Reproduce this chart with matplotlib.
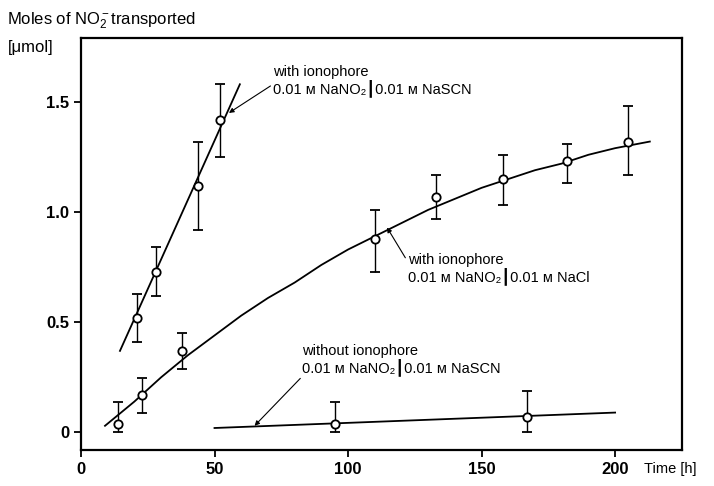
import matplotlib
matplotlib.use("Agg")
import matplotlib.pyplot as plt
import numpy as np

plt.rcParams['font.family'] = ['Liberation Sans', 'DejaVu Sans']
plt.rcParams['mathtext.fontset'] = 'custom'
plt.rcParams['mathtext.rm'] = 'Liberation Sans'
plt.rcParams['mathtext.it'] = 'Liberation Sans'

# measured points (time in h, moles in umol), with error bar limits
t_scn = [21, 28, 44, 52]
m_scn = [0.52, 0.73, 1.12, 1.42]
lo_scn = [0.41, 0.62, 0.92, 1.25]
hi_scn = [0.63, 0.84, 1.32, 1.58]

t_cl = [14, 23, 38, 110, 133, 158, 182, 205]
m_cl = [0.04, 0.17, 0.37, 0.88, 1.07, 1.15, 1.23, 1.32]
lo_cl = [0.0, 0.09, 0.29, 0.73, 0.97, 1.03, 1.13, 1.17]
hi_cl = [0.14, 0.245, 0.45, 1.01, 1.17, 1.26, 1.31, 1.48]

t_none = [95, 167]
m_none = [0.04, 0.07]
lo_none = [0.0, 0.0]
hi_none = [0.14, 0.19]

# fitted curves
fit_scn_t = [14.6, 59.5]
fit_scn_m = [0.37, 1.58]
fit_cl_t = [9, 20, 30, 40, 50, 60, 70, 80, 90, 100, 110, 120, 130, 140,
            150, 160, 170, 180, 190, 200, 213]
fit_cl_m = [0.03, 0.14, 0.25, 0.35, 0.44, 0.53, 0.61, 0.68, 0.76, 0.83,
            0.89, 0.95, 1.01, 1.06, 1.11, 1.15, 1.19, 1.22, 1.26, 1.29, 1.32]
fit_none_t = [50, 200]
fit_none_m = [0.02, 0.09]

xticks = [0, 50, 100, 150, 200]
yticks = [0, 0.5, 1.0, 1.5]
ytick_labels = ['0', '0.5', '1.0', '1.5']

fig = plt.figure(figsize=(7.14, 4.86), dpi=100)
ax = fig.add_axes([0.1134, 0.074, 0.8416, 0.8478])

lw = 1.3
for f_t, f_m in [(fit_scn_t, fit_scn_m), (fit_cl_t, fit_cl_m),
                 (fit_none_t, fit_none_m)]:
    ax.plot(f_t, f_m, color='black', lw=lw, zorder=2)

for t, m, lo, hi in [(t_scn, m_scn, lo_scn, hi_scn),
                     (t_cl, m_cl, lo_cl, hi_cl),
                     (t_none, m_none, lo_none, hi_none)]:
    m = np.array(m)
    yerr = [m - np.array(lo), np.array(hi) - m]
    ax.errorbar(t, m, yerr=yerr, fmt='o', mfc='white', mec='black', mew=1.3,
                ms=6, ecolor='black', elinewidth=1.0, capsize=3.5, capthick=1.2,
                zorder=3)

ax.set_xlim(0, 225)
ax.set_ylim(-0.08, 1.79)
ax.set_xticks(xticks)
ax.set_yticks(yticks)
ax.set_yticklabels(ytick_labels)
ax.tick_params(direction='out', length=5, width=1.3, labelsize=12)
for lab in ax.get_xticklabels() + ax.get_yticklabels():
    lab.set_fontweight('bold')
for s in ax.spines.values():
    s.set_linewidth(1.6)

ax.annotate('Time [h]', xy=(211, -0.08), xytext=(0, -8.5),
            textcoords='offset points', fontsize=10.5, ha='left', va='top')
fig.text(0.010, 0.958, r'Moles of NO$_2^-$transported', fontsize=12,
         ha='left', va='center')
fig.text(0.011, 0.903, '[μmol]', fontsize=12, ha='left', va='center')

arrow = dict(arrowstyle='-|>', lw=0.8, color='black', mutation_scale=7,
             shrinkA=0, shrinkB=0)
fs = 10.5
ls = 1.0
ax.annotate('with ionophore\n0.01 ᴍ NaNO₂┃0.01 ᴍ NaSCN', xy=(55.4, 1.45),
            xytext=(72, 1.595), fontsize=fs, ha='left', va='center',
            linespacing=ls, arrowprops=dict(arrow, relpos=(0, 0.4)))
ax.annotate('with ionophore\n0.01 ᴍ NaNO₂┃0.01 ᴍ NaCl', xy=(114.6, 0.93),
            xytext=(122.5, 0.74), fontsize=fs, ha='left', va='center',
            linespacing=ls, arrowprops=dict(arrow, relpos=(0, 0.72)))
ax.annotate('without ionophore\n0.01 ᴍ NaNO₂┃0.01 ᴍ NaSCN', xy=(65, 0.03),
            xytext=(82.8, 0.33), fontsize=fs, ha='left', va='center',
            linespacing=ls, arrowprops=dict(arrow, relpos=(0.02, 0.1)))

fig.savefig('out.png', dpi=100)
